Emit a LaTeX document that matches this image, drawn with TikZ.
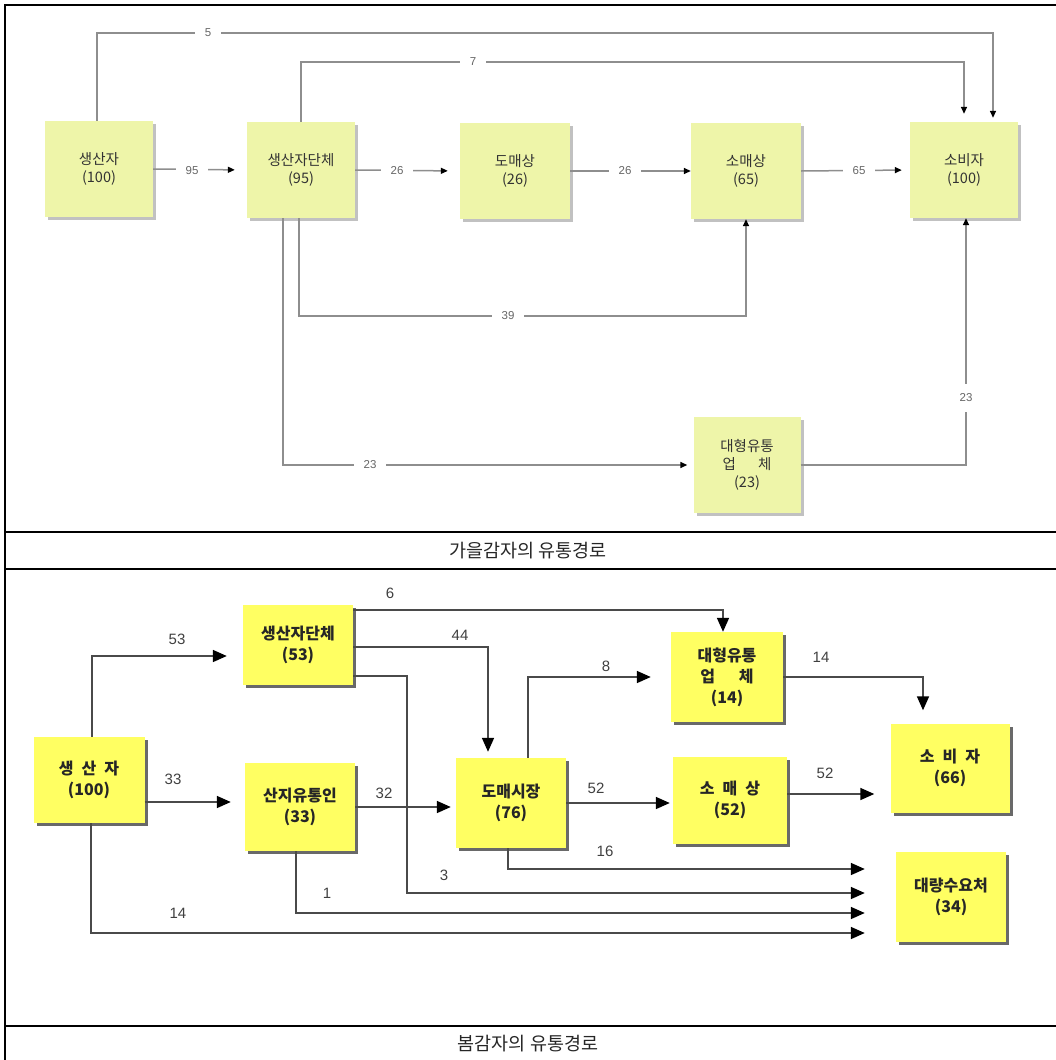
\documentclass[tikz,border=0pt]{standalone}
\usepackage{fontspec}
\setmainfont{Liberation Sans}
\newfontfamily\kr{Noto Sans CJK KR}
\usetikzlibrary{arrows.meta,shadows}
\definecolor{autumnfill}{HTML}{EEF5A9}
\definecolor{autumnline}{HTML}{8E8E8E}
\definecolor{springfill}{HTML}{FFFF62}
\definecolor{springline}{HTML}{4A4A4A}
\begin{document}
\begin{tikzpicture}[x=1pt, y=-1pt,
    frameline/.style={line width=1.5pt, color=black},
    captxt/.style={font=\kr\fontsize{18.5}{20}\selectfont, text=black!85},
    abox/.style={rectangle, fill=autumnfill, minimum width=108pt, minimum height=96pt, align=center, inner sep=0pt,
        font=\kr\fontsize{14.5}{18}\selectfont, text=black!80,
        drop shadow={shadow xshift=3pt, shadow yshift=-3pt, fill=black!30, opacity=0.8}},
    aflow/.style={line width=1.5pt, color=autumnline, -{Triangle[length=7pt, width=6pt, black]}},
    albl/.style={font=\fontsize{11.5}{12}\selectfont, text=black!60, fill=white, inner xsep=10pt, inner ysep=2pt},
    bbox/.style={rectangle, fill=springfill, minimum width=110pt, minimum height=88pt, align=center, inner sep=0pt,
        font=\kr\bfseries\fontsize{16}{21}\selectfont, text=black!85,
        drop shadow={shadow xshift=3pt, shadow yshift=-3pt, fill=black!65, opacity=0.9}},
    bflow/.style={line width=1.7pt, color=springline, -{Triangle[length=14pt, width=12pt, black]}},
    blbl/.style={font=\fontsize{15}{16}\selectfont, text=black!75}
]
\useasboundingbox (0,0) rectangle (1056,1060);

% Table Frame
\draw[frameline] (5,1060) -- (5,5) -- (1056,5);
\draw[frameline] (5,532) -- (1056,532);
\draw[frameline] (5,569) -- (1056,569);
\draw[frameline] (5,1026) -- (1056,1026);
\node[captxt] (cap1) at (528,551) {가을감자의 유통경로};
\node[captxt] (cap2) at (528,1044) {봄감자의 유통경로};

% Autumn Boxes
\node[abox] (prd1) at (99,169) {생산자\\(100)};
\node[abox] (grp1) at (301,170) {생산자단체\\(95)};
\node[abox, minimum width=110pt] (whs1) at (515,171) {도매상\\(26)};
\node[abox, minimum width=110pt] (ret1) at (746,171) {소매상\\(65)};
\node[abox] (con1) at (964,170) {소비자\\(100)};
\node[abox, minimum width=107pt] (big1) at (747,465) {대형유통\\업\hspace{22pt}체\\(23)};

% Autumn Flows
\draw[aflow, shorten >=12pt] (prd1.east) -- (grp1.west);
\draw[aflow, shorten >=12pt] (grp1.east) -- (whs1.west);
\draw[aflow] (whs1.east) -- (ret1.west);
\draw[aflow, shorten >=8pt] (ret1.east) -- (con1.west);
\draw[aflow, shorten >=4pt] ([xshift=-2pt]prd1.north) -- ++(0,-88) -| ([xshift=29pt]con1.north);
\draw[aflow, shorten >=8pt] (grp1.north) -- ++(0,-60) -| (con1.north);
\draw[aflow] ([xshift=-2pt]grp1.south) -- ++(0,98) -| (ret1.south);
\draw[aflow, shorten >=6pt] ([xshift=-18pt]grp1.south) |- (big1.west);
\draw[aflow] (big1.east) -| ([xshift=2pt]con1.south);

% Autumn Labels
\node[albl] (a5) at (208,33) {5};
\node[albl] (a7) at (473,62) {7};
\node[albl] (a95) at (192,171) {95};
\node[albl] (a26) at (397,171) {26};
\node[albl] (a26b) at (625,171) {26};
\node[albl] (a65) at (859,171) {65};
\node[albl] (a39) at (508,316) {39};
\node[albl] (a23) at (370,465) {23};
\node[albl, inner xsep=3pt, inner ysep=10pt] (a23b) at (966,398) {23};

% Spring Boxes
\node[bbox, minimum width=111pt, minimum height=86pt] (prd2) at (89,780) {생\enspace 산\enspace 자\\(100)};
\node[bbox, minimum height=80pt] (grp2) at (298,645) {생산자단체\\(53)};
\node[bbox] (col2) at (300,807) {산지유통인\\(33)};
\node[bbox, minimum height=90pt] (whs2) at (511,803) {도매시장\\(76)};
\node[bbox, minimum width=114pt, minimum height=87pt] (ret2) at (730,800) {소\enspace 매\enspace 상\\(52)};
\node[bbox, minimum width=112pt, minimum height=90pt] (big2) at (727,677) {대형유통\\업\hspace{24pt}체\\(14)};
\node[bbox, minimum width=119pt, minimum height=89pt] (con2) at (950,768) {소\enspace 비\enspace 자\\(66)};
\node[bbox, minimum height=90pt] (blk2) at (951,897) {대량수요처\\(34)};

% Spring Flows
\draw[bflow, shorten >=16pt] ([xshift=3pt]prd2.north) |- ([yshift=-11pt]grp2.west);
\draw[bflow, shorten >=14pt] ([yshift=-22pt]prd2.east) -- ([yshift=-22pt]prd2.east -| col2.west);
\draw[bflow, shorten >=31pt] ([xshift=2pt]prd2.south) |- ([yshift=-36pt]blk2.west);
\draw[bflow, shorten >=5pt] (col2.east) -- (col2.east -| whs2.west);
\draw[bflow, shorten >=31pt] ([xshift=-4pt]col2.south) |- ([yshift=-16pt]blk2.west);
\draw[bflow, shorten >=6pt] ([yshift=-2pt]grp2.east) -| ([xshift=-23pt]whs2.north);
\draw[bflow] ([yshift=35pt]grp2.east) -| ([xshift=-4pt]big2.north);
\draw[bflow, shorten >=31pt] ([yshift=-31pt]grp2.east) -- ++(54,0) |- ([yshift=4pt]blk2.west);
\draw[bflow, shorten >=20pt] ([xshift=17pt]whs2.north) |- (big2.west);
\draw[bflow, shorten >=3pt] (whs2.east) -- (whs2.east -| ret2.west);
\draw[bflow, shorten >=16pt] ([yshift=6pt]ret2.east) -- ([yshift=6pt]ret2.east -| con2.west);
\draw[bflow, shorten >=13pt] (big2.east) -| ([xshift=-27pt]con2.north);
\draw[bflow, shorten >=31pt] ([xshift=-3pt]whs2.south) |- ([yshift=28pt]blk2.west);

% Spring Labels
\node[blbl] (b53) at (177,639) {53};
\node[blbl] (b33) at (173,779) {33};
\node[blbl] (b14) at (178,913) {14};
\node[blbl] (b32) at (384,793) {32};
\node[blbl] (b1) at (327,893) {1};
\node[blbl] (b44) at (460,635) {44};
\node[blbl] (b6) at (390,593) {6};
\node[blbl] (b3) at (444,875) {3};
\node[blbl] (b8) at (606,666) {8};
\node[blbl] (b52) at (596,788) {52};
\node[blbl] (b52b) at (825,773) {52};
\node[blbl] (b14b) at (821,657) {14};
\node[blbl] (b16) at (605,851) {16};

\end{tikzpicture}
\end{document}
